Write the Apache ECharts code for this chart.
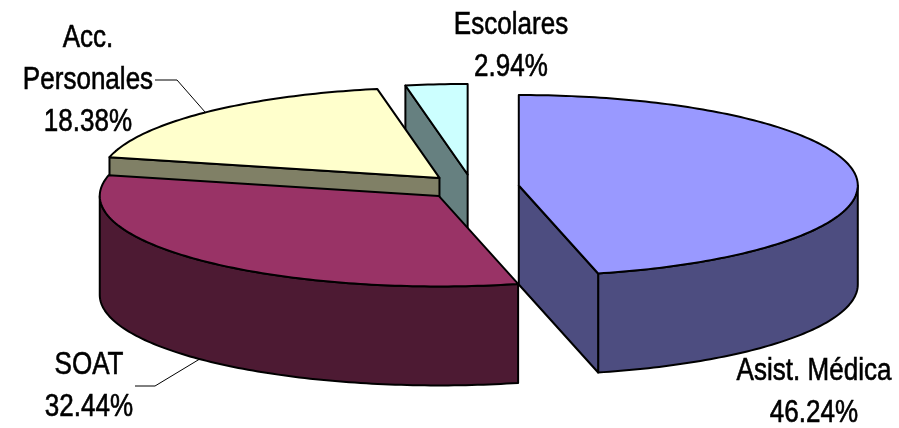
<!DOCTYPE html>
<html>
<head>
<meta charset="utf-8">
<script src="https://cdn.jsdelivr.net/npm/echarts@6/dist/echarts.min.js"></script>
<style>
html,body{margin:0;padding:0;background:#fff;}
#chart{width:899px;height:428px;}
</style>
</head>
<body>
<div id="chart"></div>
<script>
// ---- data ----
const categories = ['Asist. Médica', 'SOAT', 'Acc. Personales', 'Escolares'];
const labelLines = [['Asist. Médica'], ['SOAT'], ['Acc.', 'Personales'], ['Escolares']];
const values = [46.24, 32.44, 18.38, 2.94];

// ---- style / layout ----
const topColors  = ['#9999FF', '#993366', '#FFFFCC', '#CCFFFF'];
const sideColors = ['#4D4D80', '#4D1A33', '#808066', '#668080'];
const layout = { cx: 472, cy: 187, rx: 339, ry: 90.5, depth: 99, explode: 0.139, startAngle: 0 };
const labelPos = [[814, 392], [89, 386], [88, 80], [511, 46]];
const leaderPts = [null, [[135, 386], [155, 386]], [[155, 80], [177, 80]], null];
const FONT = '31px "Liberation Sans", Arial, sans-serif';
const NARROW = 0.84;

const total = values.reduce((a, b) => a + b, 0);
const angles = [];
let acc = layout.startAngle;
values.forEach(v => { const a0 = acc; acc += v / total * 360; angles.push([a0, acc]); });
const rad = d => d * Math.PI / 180;
const mids = angles.map(a => (a[0] + a[1]) / 2);
// back-to-front ordering
const order = mids.map((m, i) => [i, -Math.cos(rad(m))]).sort((a, b) => a[1] - b[1]).map(x => x[0]);
const rank = []; order.forEach((idx, r) => rank[idx] = r);

function renderItem(params, api) {
  const i = params.dataIndex;
  const L = layout;
  const [a0, a1] = angles[i];
  const mid = mids[i];
  const px = L.cx + L.explode * L.rx * Math.sin(rad(mid));
  const py = L.cy - L.explode * L.ry * Math.cos(rad(mid));
  const pt = (t, dz) => [px + L.rx * Math.sin(rad(t)), py - L.ry * Math.cos(rad(t)) + (dz || 0)];
  const arc = (s, e, dz) => { const pts = []; const n = Math.max(2, Math.ceil(Math.abs(e - s))); for (let k = 0; k <= n; k++) pts.push(pt(s + (e - s) * k / n, dz)); return pts; };
  const base = rank[i] * 10;
  const ls = { stroke: '#000', lineWidth: 2, lineJoin: 'round' };
  const children = [];
  // outer wall (front half 90..270)
  const ws = Math.max(a0, 90), we = Math.min(a1, 270);
  if (we > ws) {
    const pts = arc(ws, we, 0).concat(arc(we, ws, L.depth));
    children.push({ type: 'polygon', z2: base + 1, shape: { points: pts }, style: Object.assign({ fill: sideColors[i] }, ls) });
  }
  // cut faces
  const faceVis = n => Math.cos(rad(n - 180)) > 1e-6;
  [[a0, a0 - 90], [a1, a1 + 90]].forEach(([a, n]) => {
    if (faceVis(n)) {
      const t = pt(a, 0), b = pt(a, L.depth);
      children.push({ type: 'polygon', z2: base + 1, shape: { points: [[px, py], t, b, [px, py + L.depth]] }, style: Object.assign({ fill: sideColors[i] }, ls) });
    }
  });
  // top face
  children.push({ type: 'polygon', z2: base + 2, shape: { points: [[px, py]].concat(arc(a0, a1, 0)) }, style: Object.assign({ fill: topColors[i] }, ls) });
  // label
  const txt = labelLines[i].concat([values[i].toFixed(2) + '%']).join('\n');
  children.push({ type: 'text', z2: 100, x: labelPos[i][0], y: labelPos[i][1], scaleX: NARROW, scaleY: 1,
    style: { text: txt, x: 0, y: 0, font: FONT, fill: '#000', stroke: '#000', lineWidth: 0.6, align: 'center', verticalAlign: 'middle', lineHeight: 42 } });
  // leader
  if (leaderPts[i]) {
    const front = Math.cos(rad(mid)) < 0;
    const end = pt(mid, front ? L.depth : 0);
    children.push({ type: 'polyline', z2: 100, shape: { points: leaderPts[i].concat([end]) }, style: { stroke: '#000', lineWidth: 1, fill: null } });
  }
  return { type: 'group', children: children };
}

const chart = echarts.init(document.getElementById('chart'), null, { renderer: 'canvas' });
chart.setOption({
  backgroundColor: '#fff',
  animation: false,
  series: [{
    type: 'custom',
    coordinateSystem: 'none',
    data: values.map((v, i) => ({ name: categories[i], value: [i, v] })),
    renderItem: renderItem
  }]
});
</script>
</body>
</html>
